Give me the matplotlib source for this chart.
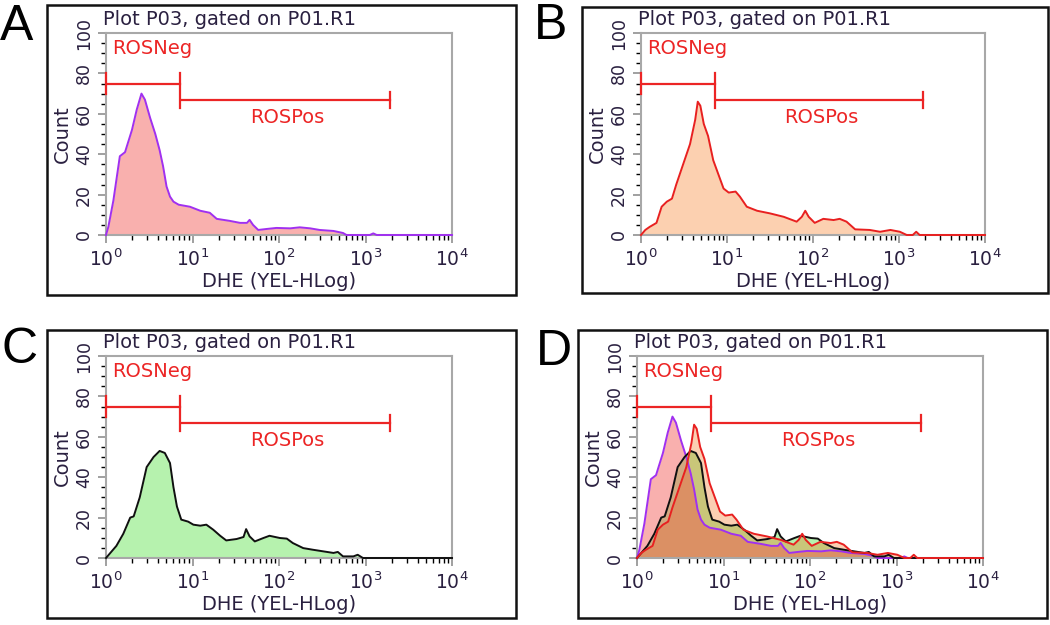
import matplotlib.pyplot as plt
import matplotlib.ticker as mticker
from matplotlib.patches import Rectangle
import numpy as np

# histogram traces, x in log10(DHE) units, y = Count
a_x = [0, 0.027, 0.085, 0.16, 0.22, 0.30, 0.355, 0.41, 0.45, 0.51, 0.57, 0.62, 0.66, 0.70,
       0.74, 0.78, 0.84, 0.97, 1.03, 1.09, 1.20, 1.28, 1.43, 1.55, 1.63, 1.66, 1.70, 1.76,
       1.86, 1.97, 2.13, 2.24, 2.36, 2.47, 2.63, 2.74, 2.78, 3.05, 3.09, 3.13, 4.0]
a_y = [0, 4, 17, 39, 41, 52, 62, 70, 67, 58, 50, 42, 34, 24,
       19, 16.5, 15, 14, 13, 12, 11, 8, 7, 6, 6, 7.5, 5, 2.5,
       3, 3.5, 3.3, 3.8, 3.3, 2.5, 2, 1, 0, 0, 0.8, 0, 0]

b_x = [0, 0.05, 0.10, 0.18, 0.24, 0.30, 0.36, 0.41, 0.49, 0.57, 0.63, 0.66, 0.69, 0.73,
       0.78, 0.84, 0.90, 0.96, 1.02, 1.10, 1.15, 1.23, 1.35, 1.50, 1.66, 1.81, 1.87, 1.91,
       1.95, 2.02, 2.12, 2.24, 2.31, 2.39, 2.49, 2.66, 2.78, 2.90, 3.01, 3.09, 3.16, 3.20,
       3.24, 4.0]
b_y = [0, 2.5, 4, 6, 14, 16.5, 18, 25, 35, 45, 57, 66, 64, 55,
       49, 37, 30, 23, 21, 21.5, 19, 14, 12, 10.7, 9, 6.6, 9, 12,
       9, 6, 8, 7.4, 8, 6.6, 2.8, 2.5, 1.6, 2.5, 1.6, 0, 0, 1.6,
       0, 0]

c_x = [0, 0.05, 0.12, 0.20, 0.28, 0.32, 0.39, 0.47, 0.55, 0.62, 0.68, 0.74, 0.78, 0.82,
       0.87, 0.95, 1.01, 1.09, 1.16, 1.24, 1.32, 1.39, 1.51, 1.59, 1.62, 1.66, 1.72, 1.82,
       1.89, 2.01, 2.09, 2.16, 2.28, 2.39, 2.51, 2.63, 2.68, 2.74, 2.86, 2.91, 2.97, 4.0]
c_y = [0, 2.5, 6, 12, 20, 20.6, 30, 45, 50, 53, 52, 47, 35, 25.5,
       19, 18, 16.5, 16, 16.5, 14, 11, 8.7, 9.4, 10.4, 14.3, 10.7, 8.2, 9.9,
       11, 9.9, 9.6, 7.4, 4.9, 4.1, 3.3, 2.5, 3, 0.8, 0.8, 1.6, 0, 0]

# gate limits
neg_gate = (1.0, 7.2)
pos_gate = (7.6, 1900.0)
neg_level = 75
pos_level = 67

W, H = 1050, 625
TEXT = '#2a2040'
GATE = '#ec2525'

plt.rcParams['font.family'] = 'DejaVu Sans'
fig = plt.figure(figsize=(10.5, 6.25), dpi=100)


def fr(x, y):
    # pixel position -> figure fraction
    return x / W, 1 - y / H


def draw_panel(letter, box, area, fills, lines):
    bx0, by0, bx1, by1 = box
    fig.patches.append(Rectangle(fr(bx0, by1), (bx1 - bx0) / W, (by1 - by0) / H,
                                 transform=fig.transFigure, fill=False,
                                 edgecolor='#111111', linewidth=1.8))
    lx, ly = letter[1]
    fig.text(*fr(lx, ly), letter[0], fontsize=36, family='Liberation Sans',
             ha='left', va='center', color='black')

    x0, y0, x1, y1 = area
    ax = fig.add_axes([x0 / W, 1 - y1 / H, (x1 - x0) / W, (y1 - y0) / H])
    ax.set_xscale('log')
    ax.set_xlim(1, 1e4)
    ax.set_ylim(0, 100)

    for xs, ys, fc, alpha in fills:
        ax.fill_between(10 ** np.array(xs), ys, 0, color=fc, alpha=alpha,
                        linewidth=0, zorder=2)
    for xs, ys, lc in lines:
        ax.plot(10 ** np.array(xs), ys, color=lc, linewidth=1.4, zorder=3, clip_on=False)

    # gates
    ax.plot(neg_gate, [neg_level] * 2, color=GATE, lw=1.6, zorder=4)
    ax.plot([neg_gate[0]] * 2, [70, 80], color=GATE, lw=1.6, zorder=4, clip_on=False)
    ax.plot([neg_gate[1]] * 2, [63, 80], color=GATE, lw=1.6, zorder=4)
    ax.plot(pos_gate, [pos_level] * 2, color=GATE, lw=1.6, zorder=4)
    ax.plot([pos_gate[1]] * 2, [63, 71], color=GATE, lw=1.6, zorder=4)
    ax.text(1.18, 92.5, 'ROSNeg', color=GATE, fontsize=14, va='center', ha='left')
    ax.text(124, 58, 'ROSPos', color=GATE, fontsize=14, va='center', ha='center')

    for s in ax.spines.values():
        s.set_color('#a8a8a8')
        s.set_linewidth(1.5)
    ax.tick_params(colors='#909090', labelcolor=TEXT, labelsize=12.5)
    ax.tick_params(axis='both', which='major', length=6, width=1.2)
    ax.tick_params(axis='both', which='minor', length=3.5, width=1)
    ax.xaxis.set_minor_locator(mticker.LogLocator(base=10, subs=np.arange(2, 10), numticks=10))
    ax.xaxis.set_minor_formatter(mticker.NullFormatter())
    ax.set_xticks([1, 10, 100, 1000, 10000])
    ax.set_xticklabels([r'$10^{%d}$' % i for i in range(5)], fontsize=13.5)
    ax.set_yticks(np.arange(0, 101, 20))
    ax.yaxis.set_minor_locator(mticker.MultipleLocator(5))
    for lab in ax.get_yticklabels():
        lab.set_rotation(90)
        lab.set_va('center')
    ax.set_xlabel('DHE (YEL-HLog)', fontsize=14, color=TEXT, labelpad=2)
    ax.set_ylabel('Count', fontsize=14, color=TEXT, labelpad=2)
    ax.text(-0.01, 1.065, 'Plot P03, gated on P01.R1', transform=ax.transAxes,
            fontsize=14, color=TEXT, ha='left', va='center')
    return ax


draw_panel(('A', (0, 27)), (47, 5, 516, 295), (106, 33, 452, 235),
           [(a_x, a_y, '#f9b0ae', 1.0)], [(a_x, a_y, '#a030f0')])
draw_panel(('B', (534, 26)), (582, 7, 1048, 293), (641, 33, 985, 235),
           [(b_x, b_y, '#fcd0b0', 1.0)], [(b_x, b_y, '#e82020')])
draw_panel(('C', (2, 350)), (47, 330, 516, 618), (106, 356, 452, 558),
           [(c_x, c_y, '#b6f2ae', 1.0)], [(c_x, c_y, '#101010')])
# overlay: translucent fills so the overlaps mix towards olive / orange
draw_panel(('D', (536, 352)), (578, 330, 1047, 618), (637, 356, 983, 558),
           [(c_x, c_y, '#b6f2ae', 1.0),
            (b_x, b_y, '#f56200', 0.3),
            (a_x, a_y, '#f2504c', 0.45)],
           [(a_x, a_y, '#a030f0'), (c_x, c_y, '#101010'), (b_x, b_y, '#e82020')])

fig.savefig('out.png', dpi=100)
